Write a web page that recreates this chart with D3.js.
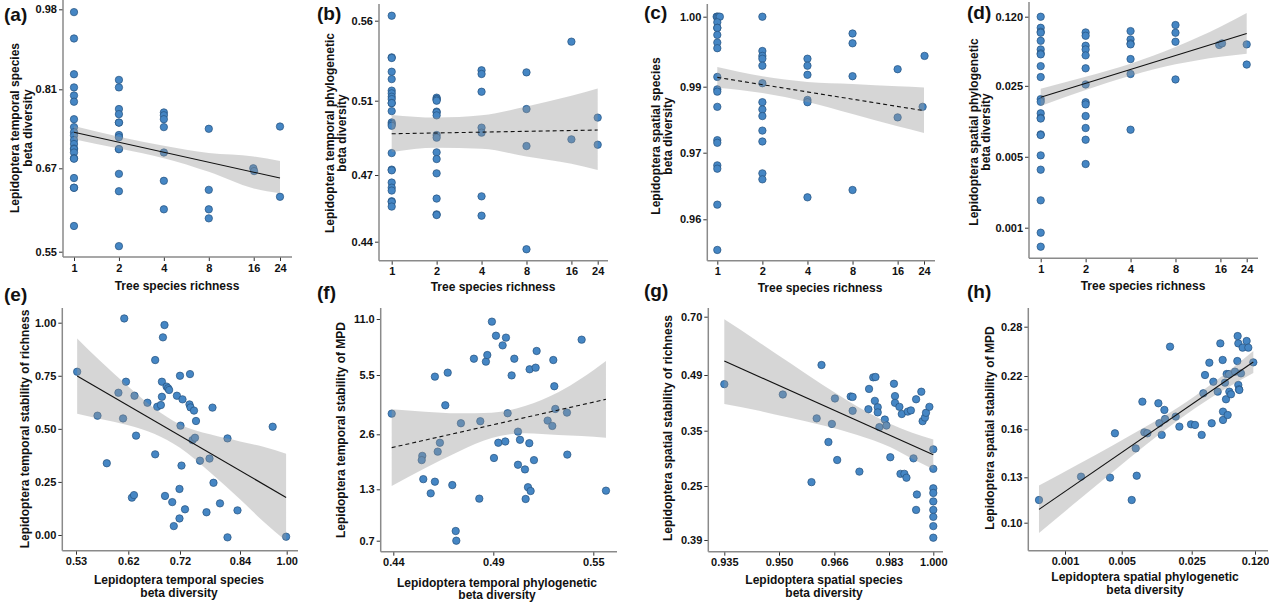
<!DOCTYPE html>
<html><head><meta charset="utf-8">
<script src="https://cdn.jsdelivr.net/npm/d3@7"></script>
<style>
body{margin:0;background:#fff}
svg{display:block}
text{font-family:"Liberation Sans",Arial,Helvetica,sans-serif;font-weight:bold;fill:#111}
</style>
</head><body>
<svg id="c" width="1269" height="604"></svg>
<script>
// ---------- tick values ----------
const treeTicks = [1, 2, 4, 8, 16, 24];
const aYTicks = [0.55, 0.67, 0.81, 0.98];
const bYTicks = [0.44, 0.47, 0.51, 0.56];
const cYTicks = [0.96, 0.97, 0.99, 1.00];
const dYTicks = [0.001, 0.005, 0.025, 0.120];
const eXTicks = [0.53, 0.62, 0.72, 0.84, 1.00];
const eYTicks = [0, 0.25, 0.5, 0.75, 1.0];
const fXTicks = [0.44, 0.49, 0.55];
const fYTicks = [0.7, 1.3, 2.6, 5.5, 11.0];
const gXTicks = [0.935, 0.950, 0.966, 0.983, 1.000];
const gYTicks = [0.18, 0.25, 0.35, 0.49, 0.70];
const gYLabels = ["0.39", "0.25", "0.35", "0.49", "0.70"];
const hXTicks = [0.001, 0.005, 0.025, 0.120];
const hYTicks = [0.10, 0.13, 0.16, 0.22, 0.28];

// ---------- (a) ----------
const aRich = [1,1,1,1,1,1,1,1,1,1,1,1,1,1,1,1,1,1,1,1,1, 2,2,2,2,2,2,2,2,2,2,2,2,2, 4,4,4,4,4,4,4, 8,8,8,8, 15.9,16.1, 24,24];
const aBeta = [0.974,0.918,0.842,0.814,0.799,0.788,0.757,0.743,0.734,0.728,0.720,0.713,0.705,0.704,0.698,0.688,0.687,0.656,0.642,0.642,0.587,
  0.830,0.814,0.775,0.766,0.751,0.751,0.729,0.725,0.704,0.704,0.662,0.637,0.558,
  0.769,0.764,0.757,0.743,0.698,0.652,0.611, 0.740,0.639,0.611,0.598, 0.670,0.666, 0.744,0.629];
const aFit = [0.734,0.716,0.698,0.680,0.664,0.656];
const aHi = [0.745,0.726,0.710,0.697,0.691,0.683];
const aLo = [0.7215,0.705,0.688,0.665,0.641,0.634];

// ---------- (b) ----------
const bRich = [1,1,1,1,1,1,1,1,1,1,1,1,1,1,1,1,1,1,1,1,1,1,1,1, 2,2,2,2,2,2,2,2,2,2,2,2,2,2,2, 4,4,4,4,4,4,4, 8,8,8,8, 16,16, 24,24];
const bBeta = [0.5631,0.5371,0.5367,0.5281,0.5235,0.5163,0.5146,0.5125,0.5110,0.5087,0.5087,0.5044,0.4983,0.4974,0.4965,0.4818,0.4729,0.4725,0.4666,0.4643,0.4630,0.4582,0.4579,0.4558,
  0.5119,0.5110,0.5108,0.5100,0.5041,0.5037,0.5021,0.4915,0.4901,0.4822,0.4786,0.4709,0.4594,0.4523,0.4520,
  0.5290,0.5267,0.5156,0.4955,0.4928,0.4604,0.4517, 0.5277,0.5055,0.4856,0.4366, 0.5469,0.4892, 0.5009,0.4863];
const bFit = [0.4922,0.4928,0.4931,0.4935,0.4939,0.4942];
const bHi = [0.5023,0.5009,0.5021,0.5069,0.5131,0.5177];
const bLo = [0.4824,0.4847,0.4841,0.4800,0.4760,0.4727];

// ---------- (c) ----------
const cRich = [0.99,1,1.02,1.04,1,1,1,1,1,1,1,1,1,1,1,1,1,1,1,1, 2,2,2,2,2,2,2,2,2,2,2,2,2, 4,4,4,4,4,4, 8,8,8,8, 16,16, 24.2,23.5];
const cBeta = [1,1,1,1,0.9992,0.9984,0.9984,0.9974,0.9963,0.9955,0.9914,0.9892,0.9885,0.9839,0.9738,0.9730,0.9681,0.9676,0.9622,0.9554,
  1,0.9951,0.9944,0.9940,0.9930,0.9905,0.9853,0.9831,0.9811,0.9767,0.9734,0.9669,0.9660,
  0.9940,0.9930,0.9917,0.9860,0.9853,0.9633, 0.9976,0.9962,0.9915,0.9644, 0.9925,0.9807, 0.9944,0.9839];
const cFit = [0.99133,0.99029,0.98838,0.98626,0.98404,0.98273];
const cHi = [0.99281,0.99148,0.99067,0.99038,0.99005,0.98975];
const cLo = [0.98970,0.98808,0.98535,0.98172,0.97798,0.97596];

// ---------- (d) ----------
const dRich = [1,1,1,1,1,1,1,1,1,1,1,1,1,1,1,1,1,1,1,1,1,1, 2,2,2,2,2,2,2,2,2,2,2,2,2, 4,4,4,4,4,4,4, 8,8,8,8, 15.7,16.4, 24,24];
const dBeta = [0.1199,0.0933,0.0853,0.0834,0.0695,0.0571,0.0522,0.0510,0.0391,0.0305,0.0185,0.0174,0.0134,0.0121,0.0119,0.00831,0.00818,0.00516,0.00373,0.00186,0.000893,0.000650,
  0.0840,0.0779,0.0621,0.0571,0.0499,0.0372,0.0258,0.0172,0.0164,0.0126,0.00960,0.00736,0.00424,
  0.0866,0.0717,0.0655,0.0640,0.0459,0.0327,0.00924, 0.0993,0.0834,0.0680,0.0289, 0.0632,0.0655, 0.0640,0.0405];
const dFit = [0.0193,0.0264,0.0360,0.0495,0.0680,0.0821];
const dHi = [0.0234,0.0307,0.0413,0.0603,0.0955,0.1303];
const dLo = [0.0158,0.0227,0.0314,0.0407,0.0484,0.0518];

// ---------- (e) ----------
const eX = [0.532,0.567,0.583,0.603,0.613,0.611,0.616,0.627,0.631,0.632,0.635,0.657,0.672,0.672,0.676,0.683,0.685,0.685,0.687,0.690,0.691,0.694,0.697,0.699,0.705,0.708,0.714,0.719,0.719,0.720,0.721,0.723,0.725,0.730,0.739,0.740,0.741,0.745,0.748,0.750,0.752,0.760,0.773,0.779,0.785,0.787,0.800,0.815,0.815,0.835,0.952,0.998];
const eY = [0.769,0.562,0.338,0.670,1.020,0.549,0.722,0.176,0.188,0.656,0.468,0.623,0.380,0.824,0.604,0.612,0.722,0.651,0.931,0.989,0.184,0.699,0.691,0.683,0.155,0.042,0.656,0.078,0.217,0.750,0.515,0.327,0.639,0.121,0.615,0.758,0.601,0.447,0.586,0.458,0.537,0.350,0.107,0.360,0.600,0.246,0.149,0.455,-0.011,0.116,0.510,-0.008];
const eBandX = [0.532,0.57,0.62,0.67,0.72,0.78,0.84,0.92,0.998];
const eFit = [0.749,0.686,0.608,0.537,0.466,0.385,0.305,0.240,0.177];
const eHi = [0.926,0.824,0.699,0.597,0.521,0.474,0.441,0.416,0.383];
const eLo = [0.571,0.548,0.517,0.477,0.411,0.295,0.168,0.064,-0.028];

// ---------- (f) ----------
const fX = [0.4392,0.4545,0.4542,0.4550,0.4587,0.4608,0.4608,0.4622,0.4633,0.4660,0.4672,0.4695,0.4712,0.4715,0.4738,0.4803,0.4830,0.4835,0.4863,0.4870,0.4893,0.4904,0.4916,0.4930,0.4956,0.4972,0.4976,0.4986,0.5010,0.5026,0.5048,0.5048,0.5060,0.5090,0.5094,0.5108,0.5118,0.5116,0.5124,0.5144,0.5154,0.5160,0.5226,0.5254,0.5260,0.5266,0.5272,0.5342,0.5344,0.5430,0.5576];
const fY = [3.61,2.09,1.99,1.54,1.253,1.48,5.42,2.19,2.40,4.02,5.73,1.40,0.813,0.70,3.14,7.10,1.191,3.24,6.81,7.46,10.74,2.04,9.36,2.40,8.41,2.43,9.17,3.63,5.48,7.10,2.73,1.88,2.47,1.77,1.187,1.35,6.06,2.39,1.280,1.99,6.22,7.86,3.27,3.01,6.97,4.95,3.84,3.66,2.12,8.97,1.284];
const fBandX = [0.4392,0.4558,0.4725,0.4892,0.509,0.529,0.543,0.5576];
const fFit = [2.285,2.466,2.681,3.056,3.415,3.789,4.05,4.311];
const fHi = [3.822,3.708,3.627,3.659,3.985,4.653,5.337,6.875];
const fLo = [1.379,1.796,2.190,2.513,2.649,2.584,2.561,2.521];

// ---------- (g) ----------
const gX = [0.935,0.9511,0.9594,0.9609,0.9623,0.9643,0.9653,0.9662,0.9669,0.9711,0.9717,0.9717,0.9738,0.9766,0.9768,0.9781,0.9788,0.9786,0.9795,0.9795,0.9800,0.9817,0.9822,0.9835,0.9849,0.9853,0.9853,0.9870,0.9874,0.9879,0.9889,0.9897,0.9902,0.9914,0.9924,0.9934,0.9937,0.9934,0.9954,0.9959,0.9968,0.9972,0.9985,1,1,1,1,1,1,1,1,1];
const gY = [0.467,0.441,0.257,0.381,0.526,0.3295,0.367,0.431,0.297,0.436,0.435,0.400,0.276,0.404,0.455,0.484,0.485,0.425,0.409,0.396,0.359,0.378,0.363,0.302,0.468,0.437,0.420,0.410,0.272,0.392,0.272,0.265,0.398,0.401,0.300,0.429,0.239,0.219,0.448,0.374,0.383,0.395,0.410,0.3163,0.281,0.247,0.241,0.230,0.219,0.210,0.198,0.183];
const gBandX = [0.935,0.9439,0.9532,0.9628,0.9729,0.9834,0.9919,1.000];
const gFit = [0.5404,0.4887,0.4514,0.4137,0.3760,0.3416,0.3229,0.3067];
const gHi = [0.6904,0.6136,0.5332,0.4640,0.4121,0.3676,0.3464,0.3343];
const gLo = [0.4171,0.4012,0.3824,0.3631,0.3428,0.3205,0.2994,0.2802];

// ---------- (h) ----------
const hX = [0.000478,0.001576,0.003590,0.004127,0.006292,0.006899,0.007061,0.008044,0.008420,0.009022,0.011618,0.011889,0.012545,0.013340,0.013547,0.015194,0.017310,0.018830,0.024614,0.027155,0.032013,0.033360,0.034767,0.038712,0.041020,0.042749,0.047598,0.050832,0.053847,0.054295,0.054295,0.057058,0.058495,0.059460,0.060954,0.062999,0.063523,0.066199,0.073079,0.077426,0.078070,0.079358,0.079358,0.080684,0.081358,0.084775,0.088342,0.097543,0.101672,0.115055];
const hY = [0.1150,0.1304,0.1298,0.1575,0.1150,0.1481,0.1310,0.1911,0.1581,0.1575,0.1893,0.1668,0.1565,0.1818,0.1716,0.2557,0.1743,0.1630,0.1656,0.1649,0.1565,0.2005,0.2212,0.2362,0.1668,0.2136,0.2024,0.2597,0.2395,0.1799,0.1705,0.2125,0.1938,0.2224,0.1761,0.2224,0.2024,0.1994,0.2253,0.2382,0.2686,0.2597,0.2099,0.2050,0.2043,0.2232,0.2545,0.2626,0.2545,0.2366];
const hBandX = [0.000478,0.001460,0.003764,0.008551,0.018408,0.041020,0.115055];
const hFit = [0.1088,0.1267,0.1412,0.1556,0.1776,0.2035,0.2370];
const hHi = [0.1245,0.1381,0.1496,0.1626,0.1848,0.2110,0.2504];
const hLo = [0.0932,0.1148,0.1329,0.1498,0.1705,0.1960,0.2236];

// ---------- drawing ----------
const svg = d3.select('#c');
const f1 = d3.format('.1f'), f2 = d3.format('.2f'), f3 = d3.format('.3f'), fi = d3.format('d');

function panel(p) {
  const g = svg.append('g');
  const pts = p.xs.map((x, i) => [x, p.ys[i]]);
  g.selectAll('circle').data(pts).join('circle')
    .attr('cx', d => p.x(d[0])).attr('cy', d => p.y(d[1])).attr('r', 3.7)
    .attr('fill', '#4586c4').attr('stroke', '#25527e').attr('stroke-width', 0.7);
  const bd = p.bx.map((x, i) => ({x: x, lo: p.blo[i], hi: p.bhi[i], f: p.bfit[i]}));
  g.append('path').datum(bd)
    .attr('d', d3.area().x(d => p.x(d.x)).y0(d => p.y(d.lo)).y1(d => p.y(d.hi)).curve(d3.curveMonotoneX))
    .attr('fill', '#999').attr('fill-opacity', 0.4);
  g.append('path').datum([bd[0], bd[bd.length - 1]])
    .attr('d', d3.line().x(d => p.x(d.x)).y(d => p.y(d.f)))
    .attr('fill', 'none').attr('stroke', '#111').attr('stroke-width', 1.1)
    .attr('stroke-dasharray', p.dashed ? '4,3' : null);

  const ax = d3.axisBottom(p.x).tickValues(p.xt).tickFormat(p.xf).tickSize(4).tickPadding(3);
  const ay = d3.axisLeft(p.y).tickValues(p.yt).tickFormat(p.yf).tickSize(4).tickPadding(2);
  const gx = g.append('g').attr('transform', `translate(0,${p.ax})`).call(ax);
  const gy = g.append('g').attr('transform', `translate(${p.ay},0)`).call(ay);
  [gx, gy].forEach(s => {
    s.select('.domain').remove();
    s.attr('font-size', 11).attr('font-family', null).attr('color', '#222');
    s.selectAll('line').attr('stroke', '#333');
  });
  g.append('line').attr('x1', p.ay).attr('x2', p.ay).attr('y1', p.top).attr('y2', p.ax)
    .attr('stroke', '#8a8a8a').attr('stroke-width', 1.5);
  g.append('line').attr('x1', p.ay).attr('x2', p.right).attr('y1', p.ax).attr('y2', p.ax)
    .attr('stroke', '#8a8a8a').attr('stroke-width', 1.5);

  p.yTitle.forEach(t => {
    g.append('text').attr('transform', `translate(${t[1]},${p.ycy}) rotate(-90)`)
      .attr('text-anchor', 'middle').attr('font-size', 12).text(t[0]);
  });
  p.xTitle.forEach(t => {
    g.append('text').attr('x', p.xcx).attr('y', t[1])
      .attr('text-anchor', 'middle').attr('font-size', 12).text(t[0]);
  });
  g.append('text').attr('x', p.lab[1]).attr('y', p.lab[2]).attr('font-size', 19).text(p.lab[0]);
}

const panels = [
  {x: d3.scaleLog().domain([1, 24]).range([74, 280]), y: d3.scaleLinear().domain(aYTicks).range([251.7, 168.3, 89.3, 9.3]),
   xs: aRich, ys: aBeta, bx: treeTicks, bfit: aFit, bhi: aHi, blo: aLo, dashed: false,
   xt: treeTicks, xf: fi, yt: aYTicks, yf: f2, ax: 257, ay: 63, top: 0, right: 292,
   yTitle: [["Lepidoptera temporal species", 19], ["beta diversity", 32]], ycy: 128,
   xTitle: [["Tree species richness", 290]], xcx: 177, lab: ["(a)", 4, 21]},
  {x: d3.scaleLog().domain([1, 24]).range([391.7, 597.7]), y: d3.scaleLinear().domain(bYTicks).range([241.7, 175, 100.7, 20.7]),
   xs: bRich, ys: bBeta, bx: treeTicks, bfit: bFit, bhi: bHi, blo: bLo, dashed: true,
   xt: treeTicks, xf: fi, yt: bYTicks, yf: f2, ax: 260.7, ay: 379, top: 4, right: 608,
   yTitle: [["Lepidoptera temporal phylogenetic", 334], ["beta diversity", 346]], ycy: 133,
   xTitle: [["Tree species richness", 291]], xcx: 493, lab: ["(b)", 317, 20]},
  {x: d3.scaleLog().domain([1, 24]).range([717.3, 924]), y: d3.scaleLinear().domain(cYTicks).range([219.3, 152.7, 86.7, 16.7]),
   xs: cRich, ys: cBeta, bx: treeTicks, bfit: cFit, bhi: cHi, blo: cLo, dashed: true,
   xt: treeTicks, xf: fi, yt: cYTicks, yf: f2, ax: 260.7, ay: 707.3, top: 4, right: 935,
   yTitle: [["Lepidoptera spatial species", 660], ["beta diversity", 672]], ycy: 136,
   xTitle: [["Tree species richness", 292]], xcx: 820, lab: ["(c)", 644, 19]},
  {x: d3.scaleLog().domain([1, 24]).range([1040.7, 1246.7]), y: d3.scaleLog().domain([0.001, 0.12]).range([227.7, 16.7]),
   xs: dRich, ys: dBeta, bx: treeTicks, bfit: dFit, bhi: dHi, blo: dLo, dashed: false,
   xt: treeTicks, xf: fi, yt: dYTicks, yf: f3, ax: 258.3, ay: 1029, top: 2, right: 1258,
   yTitle: [["Lepidoptera spatial phylogenetic", 978], ["beta diversity", 990]], ycy: 132,
   xTitle: [["Tree species richness", 290]], xcx: 1143, lab: ["(d)", 967, 19]},
  {x: d3.scaleLinear().domain(eXTicks).range([76, 128.3, 180, 240, 286.7]), y: d3.scaleLinear().domain([0, 1]).range([535, 322.7]),
   xs: eX, ys: eY, bx: eBandX, bfit: eFit, bhi: eHi, blo: eLo, dashed: false,
   xt: eXTicks, xf: f2, yt: eYTicks, yf: f2, ax: 550.7, ay: 62.3, top: 308, right: 298,
   yTitle: [["Lepidoptera temporal stability of richness", 29]], ycy: 429,
   xTitle: [["Lepidoptera temporal species", 584], ["beta diversity", 597]], xcx: 179, lab: ["(e)", 4, 301]},
  {x: d3.scaleLinear().domain(fXTicks).range([393.3, 493.3, 593.3]), y: d3.scaleLinear().domain(fYTicks).range([540.7, 489.3, 434.3, 375, 319]),
   xs: fX, ys: fY, bx: fBandX, bfit: fFit, bhi: fHi, blo: fLo, dashed: true,
   xt: fXTicks, xf: f2, yt: fYTicks, yf: f1, ax: 551.7, ay: 380.7, top: 308, right: 617,
   yTitle: [["Lepidoptera temporal stability of MPD", 345]], ycy: 430,
   xTitle: [["Lepidoptera temporal phylogenetic", 587], ["beta diversity", 599]], xcx: 497, lab: ["(f)", 317, 299]},
  {x: d3.scaleLinear().domain(gXTicks).range([724.3, 779, 834.3, 889, 933.3]), y: d3.scaleLinear().domain(gYTicks).range([540, 486, 430.7, 375, 316.7]),
   xs: gX, ys: gY, bx: gBandX, bfit: gFit, bhi: gHi, blo: gLo, dashed: false,
   xt: gXTicks, xf: f3, yt: gYTicks, yf: (d, i) => gYLabels[i], ax: 551.7, ay: 708.3, top: 308, right: 943,
   yTitle: [["Lepidoptera spatial stability of richness", 672]], ycy: 428,
   xTitle: [["Lepidoptera spatial species", 584], ["beta diversity", 597]], xcx: 824, lab: ["(g)", 644, 297]},
  {x: d3.scaleLog().domain(hXTicks).range([1065, 1121.7, 1191.7, 1255]), y: d3.scaleLinear().domain(hYTicks).range([522.7, 477.3, 429.3, 376, 326.7]),
   xs: hX, ys: hY, bx: hBandX, bfit: hFit, bhi: hHi, blo: hLo, dashed: false,
   xt: hXTicks, xf: f3, yt: hYTicks, yf: f2, ax: 550.7, ay: 1028.3, top: 308, right: 1268,
   yTitle: [["Lepidoptera spatial stability of MPD", 994]], ycy: 428,
   xTitle: [["Lepidoptera spatial phylogenetic", 581], ["beta diversity", 594]], xcx: 1145, lab: ["(h)", 967, 298]}
];
panels.forEach(panel);
</script>
</body></html>
